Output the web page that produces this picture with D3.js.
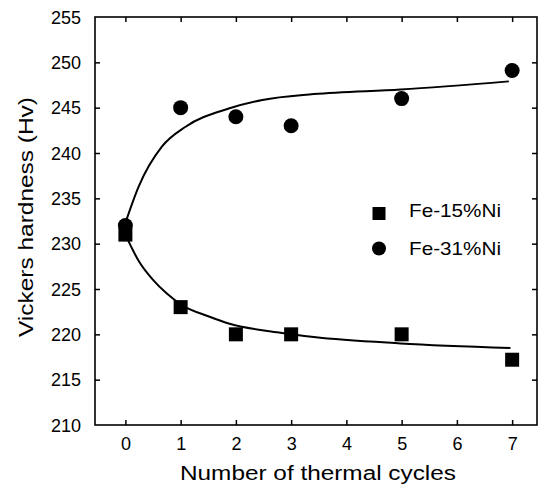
<!DOCTYPE html>
<html>
<head>
<meta charset="utf-8">
<script src="https://cdn.jsdelivr.net/npm/d3@7"></script>
<style>
  html, body { margin: 0; padding: 0; background: #fff; }
  svg { display: block; }
  text { font-family: "Liberation Sans", Arial, Helvetica, sans-serif; fill: #000; }
</style>
</head>
<body>
<script>
// ---- data ----
const cycles15 = [0, 1, 2, 3, 5, 7];
const hv15 = [231, 223, 220, 220, 220, 217.2];
const cycles31 = [0, 1, 2, 3, 5, 7];
const hv31 = [232, 245, 244, 243, 246, 249.1];
// fitted trend lines
const fitX15 = [0, 0.25, 0.5, 0.75, 1.03, 1.5, 1.87, 2.78, 3.41, 4.98, 6.97];
const fitY15 = [231, 228.0, 226.0, 224.5, 223.2, 222.0, 221.2, 220.2, 219.7, 219.0, 218.5];
const fitX31 = [0, 0.24, 0.66, 1.09, 1.87, 2.48, 3.41, 4.98, 6.94];
const fitY31 = [232.3, 236.3, 240.7, 242.9, 244.9, 245.85, 246.5, 247.0, 247.9];
const xTicks = [0, 1, 2, 3, 4, 5, 6, 7];
const yTicks = [210, 215, 220, 225, 230, 235, 240, 245, 250, 255];
const seriesNames = ["Fe-15%Ni", "Fe-31%Ni"];
const xTitle = "Number of thermal cycles";
const yTitle = "Vickers hardness (Hv)";

// ---- layout ----
const W = 540, H = 486;
const L = 95, R = 537, T = 17, B = 425;

const svg = d3.select("body").append("svg").attr("width", W).attr("height", H);

const x = d3.scaleLinear().domain([-0.55, 7.45]).range([L, R]);
const y = d3.scaleLinear().domain([210, 255]).range([B, T]);

const tickLen = 5;
const fs = 18;

// axes: ticks inward
const gB = svg.append("g").attr("transform", `translate(0,${B})`)
  .call(d3.axisBottom(x).tickValues(xTicks).tickSizeInner(-tickLen).tickSizeOuter(0).tickPadding(12).tickFormat(d3.format("d")));
const gT = svg.append("g").attr("transform", `translate(0,${T})`)
  .call(d3.axisTop(x).tickValues(xTicks).tickSizeInner(-tickLen).tickSizeOuter(0).tickFormat(""));
const gL = svg.append("g").attr("transform", `translate(${L},0)`)
  .call(d3.axisLeft(y).tickValues(yTicks).tickSizeInner(-tickLen).tickSizeOuter(0).tickPadding(14).tickFormat(d3.format("d")));
const gR = svg.append("g").attr("transform", `translate(${R},0)`)
  .call(d3.axisRight(y).tickValues(yTicks).tickSizeInner(-tickLen).tickSizeOuter(0).tickFormat(""));

[gB, gT, gL, gR].forEach(g => {
  g.select(".domain").remove();
  g.selectAll(".tick line").attr("stroke", "#000").attr("stroke-width", 1.5);
  g.selectAll(".tick text").attr("font-size", fs).attr("fill", "#000")
    .style("font-family", '"Liberation Sans", Arial, sans-serif');
});
// hide ticks at the corners
gL.selectAll(".tick").filter(d => d === 210 || d === 255).select("line").remove();
gR.selectAll(".tick").filter(d => d === 210 || d === 255).select("line").remove();
gL.selectAll(".tick text").attr("dy", "0.34em");

// frame
svg.append("rect").attr("x", L).attr("y", T).attr("width", R - L).attr("height", B - T)
  .attr("fill", "none").attr("stroke", "#000").attr("stroke-width", 1.6);

// fitted curves
const line = d3.line().x(d => x(d[0])).y(d => y(d[1])).curve(d3.curveMonotoneX);
svg.append("path").datum(d3.zip(fitX15, fitY15)).attr("d", line)
  .attr("fill", "none").attr("stroke", "#000").attr("stroke-width", 2);
svg.append("path").datum(d3.zip(fitX31, fitY31)).attr("d", line)
  .attr("fill", "none").attr("stroke", "#000").attr("stroke-width", 2);

// markers
const sq = 14;
svg.append("g").selectAll("rect").data(d3.zip(cycles15, hv15)).join("rect")
  .attr("x", d => x(d[0]) - sq / 2).attr("y", d => y(d[1]) - sq / 2)
  .attr("width", sq).attr("height", sq).attr("fill", "#000");
svg.append("g").selectAll("circle").data(d3.zip(cycles31, hv31)).join("circle")
  .attr("cx", d => x(d[0])).attr("cy", d => y(d[1])).attr("r", 7.5).attr("fill", "#000");

// legend
const lg = svg.append("g");
lg.append("rect").attr("x", 379 - 6.5).attr("y", 213.5 - 6.5).attr("width", 13).attr("height", 13).attr("fill", "#000");
lg.append("circle").attr("cx", 379).attr("cy", 248.5).attr("r", 7).attr("fill", "#000");
lg.append("text").attr("x", 409).attr("y", 217).attr("font-size", 19)
  .attr("textLength", 92).attr("lengthAdjust", "spacingAndGlyphs").text(seriesNames[0]);
lg.append("text").attr("x", 409).attr("y", 255).attr("font-size", 19)
  .attr("textLength", 92).attr("lengthAdjust", "spacingAndGlyphs").text(seriesNames[1]);

// axis titles
svg.append("text").attr("x", 180).attr("y", 480).attr("font-size", 20)
  .attr("textLength", 276).attr("lengthAdjust", "spacingAndGlyphs").text(xTitle);
svg.append("text").attr("transform", "translate(33,337) rotate(-90)").attr("font-size", 21)
  .attr("textLength", 240).attr("lengthAdjust", "spacingAndGlyphs").text(yTitle);
</script>
</body>
</html>
